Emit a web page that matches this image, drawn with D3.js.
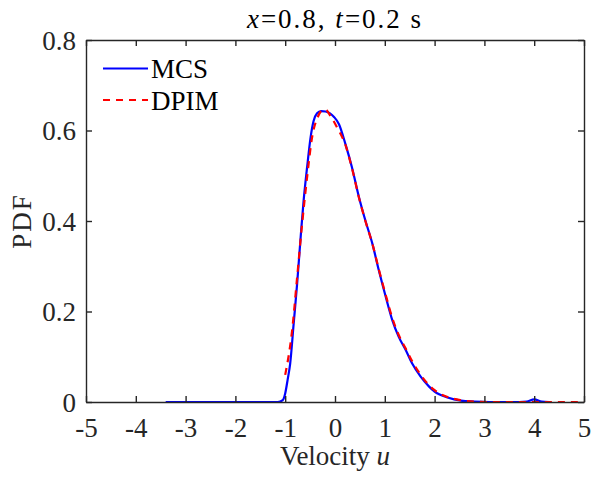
<!DOCTYPE html>
<html><head><meta charset="utf-8">
<script src="https://cdn.jsdelivr.net/npm/d3@7"></script>
</head><body>
<script>
const mcsU = [-3.4,-1.15,-1.05,-1.0,-0.95,-0.9,-0.83,-0.76,-0.69,-0.63,-0.56,-0.49,-0.43,-0.36,-0.28,-0.19,-0.1,-0.02,0.08,0.21,0.34,0.48,0.61,0.75,0.88,1.02,1.15,1.28,1.42,1.55,1.72,1.89,2.0,2.26,2.53,2.8,3.1,3.7,3.85,4.0,4.15,4.3];
const mcsPdf = [0,0,0.004,0.019,0.05,0.085,0.173,0.262,0.364,0.445,0.519,0.585,0.621,0.638,0.643,0.642,0.638,0.630,0.614,0.570,0.519,0.453,0.401,0.350,0.291,0.232,0.181,0.144,0.115,0.085,0.056,0.034,0.023,0.010,0.003,0.001,0,0,0.001,0.006,0.001,0];
const dpimU = [-1.0,-0.86,-0.76,-0.66,-0.56,-0.46,-0.35,-0.25,-0.19,-0.09,0.04,0.21,0.34,0.48,0.61,0.75,0.88,1.02,1.15,1.28,1.42,1.55,1.72,1.89,2.0,2.26,2.53,2.8,3.1,3.5,4.0,4.5,5.0];
const dpimPdf = [0.06,0.159,0.276,0.394,0.497,0.585,0.629,0.645,0.646,0.632,0.607,0.568,0.517,0.452,0.400,0.350,0.293,0.236,0.186,0.148,0.118,0.09,0.06,0.037,0.026,0.011,0.004,0.001,0,0,0,0,0];
const xTicks = [-5,-4,-3,-2,-1,0,1,2,3,4,5];
const yTicks = [0,0.2,0.4,0.6,0.8];

document.body.style.margin = "0";
const W=592,H=480, L=86,R=584,T=40,B=402;
const FONT="'Liberation Serif', 'Times New Roman', Tinos, serif";
const svg = d3.select("body").append("svg").attr("width",W).attr("height",H)
  .style("display","block");
const x = d3.scaleLinear().domain([-5,5]).range([L,R]);
const y = d3.scaleLinear().domain([0,0.8]).range([B,T]);
const axCol="#262626";
const fs=27;

svg.append("clipPath").attr("id","clip").append("rect").attr("x",L).attr("y",T).attr("width",R-L).attr("height",B-T);

const line = d3.line().x(d=>x(d[0])).y(d=>y(d[1])).curve(d3.curveMonotoneX);
const g = svg.append("g").attr("clip-path","url(#clip)");
g.append("path").datum(mcsU.map((u,i)=>[u,mcsPdf[i]])).attr("d",line)
  .attr("fill","none").attr("stroke","#0000ff").attr("stroke-width",2.2);
g.append("path").datum(dpimU.map((u,i)=>[u,dpimPdf[i]])).attr("d",line)
  .attr("fill","none").attr("stroke","#ff0000").attr("stroke-width",2.2).attr("stroke-dasharray","7,6");

// axes
const fmtX = d=>String(d).replace("\u2212","-");
const fmtY = d=>d===0?"0":d3.format(".1f")(d);
const xb = svg.append("g").attr("transform",`translate(0,${B})`)
  .call(d3.axisBottom(x).tickValues(xTicks).tickSizeInner(-6).tickSizeOuter(0).tickFormat(fmtX));
const xt = svg.append("g").attr("transform",`translate(0,${T})`)
  .call(d3.axisTop(x).tickValues(xTicks).tickSizeInner(-6).tickSizeOuter(0).tickFormat(""));
const yl = svg.append("g").attr("transform",`translate(${L},0)`)
  .call(d3.axisLeft(y).tickValues(yTicks).tickSizeInner(-6).tickSizeOuter(0).tickPadding(10).tickFormat(fmtY));
const yr = svg.append("g").attr("transform",`translate(${R},0)`)
  .call(d3.axisRight(y).tickValues(yTicks).tickSizeInner(-6).tickSizeOuter(0).tickFormat(""));
[xb,xt,yl,yr].forEach(a=>{
  a.attr("font-family",null).attr("font-size",null);
  a.selectAll("path,line").attr("stroke",axCol).attr("stroke-width",1.4);
  a.selectAll("text").attr("fill",axCol).attr("font-size",fs);
});
xb.selectAll("text").attr("y",34.5).attr("dy",null);
yl.selectAll("text").attr("dy","0.34em");

// labels
const xl = svg.append("text").attr("x",(L+R)/2).attr("y",465).attr("text-anchor","middle")
  .attr("fill",axCol).attr("font-size",27);
xl.append("tspan").text("Velocity ");
xl.append("tspan").attr("font-style","italic").text("u");
svg.append("text").attr("transform",`translate(31,${(T+B)/2}) rotate(-90)`).attr("text-anchor","middle")
  .attr("fill",axCol).attr("font-size",27).attr("letter-spacing",2).text("PDF");
const tt = svg.append("text").attr("x",(L+R)/2).attr("y",28).attr("text-anchor","middle")
  .attr("fill","#000").attr("font-size",27).attr("letter-spacing",2);
tt.append("tspan").attr("font-style","italic").text("x");
tt.append("tspan").text("=0.8, ");
tt.append("tspan").attr("font-style","italic").text("t");
tt.append("tspan").text("=0.2 s");

// legend
const legNames=["MCS","DPIM"], legColors=["#0000ff","#ff0000"], legDash=[null,"7,6"];
legNames.forEach((t,i)=>{
  const yy = 68.5 + i*31.5;
  svg.append("line").attr("x1",103).attr("x2",148).attr("y1",yy).attr("y2",yy)
    .attr("stroke",legColors[i]).attr("stroke-width",2.2).attr("stroke-dasharray",legDash[i]);
  svg.append("text").attr("x",151).attr("y",yy+9.5).attr("fill","#000")
    .attr("font-size",27).text(t);
});

// force serif font on every text node
svg.selectAll("text, tspan").each(function(){
  this.setAttribute("font-family","Liberation Serif");
  this.style.setProperty("font-family", FONT, "important");
});
</script>
</body></html>
